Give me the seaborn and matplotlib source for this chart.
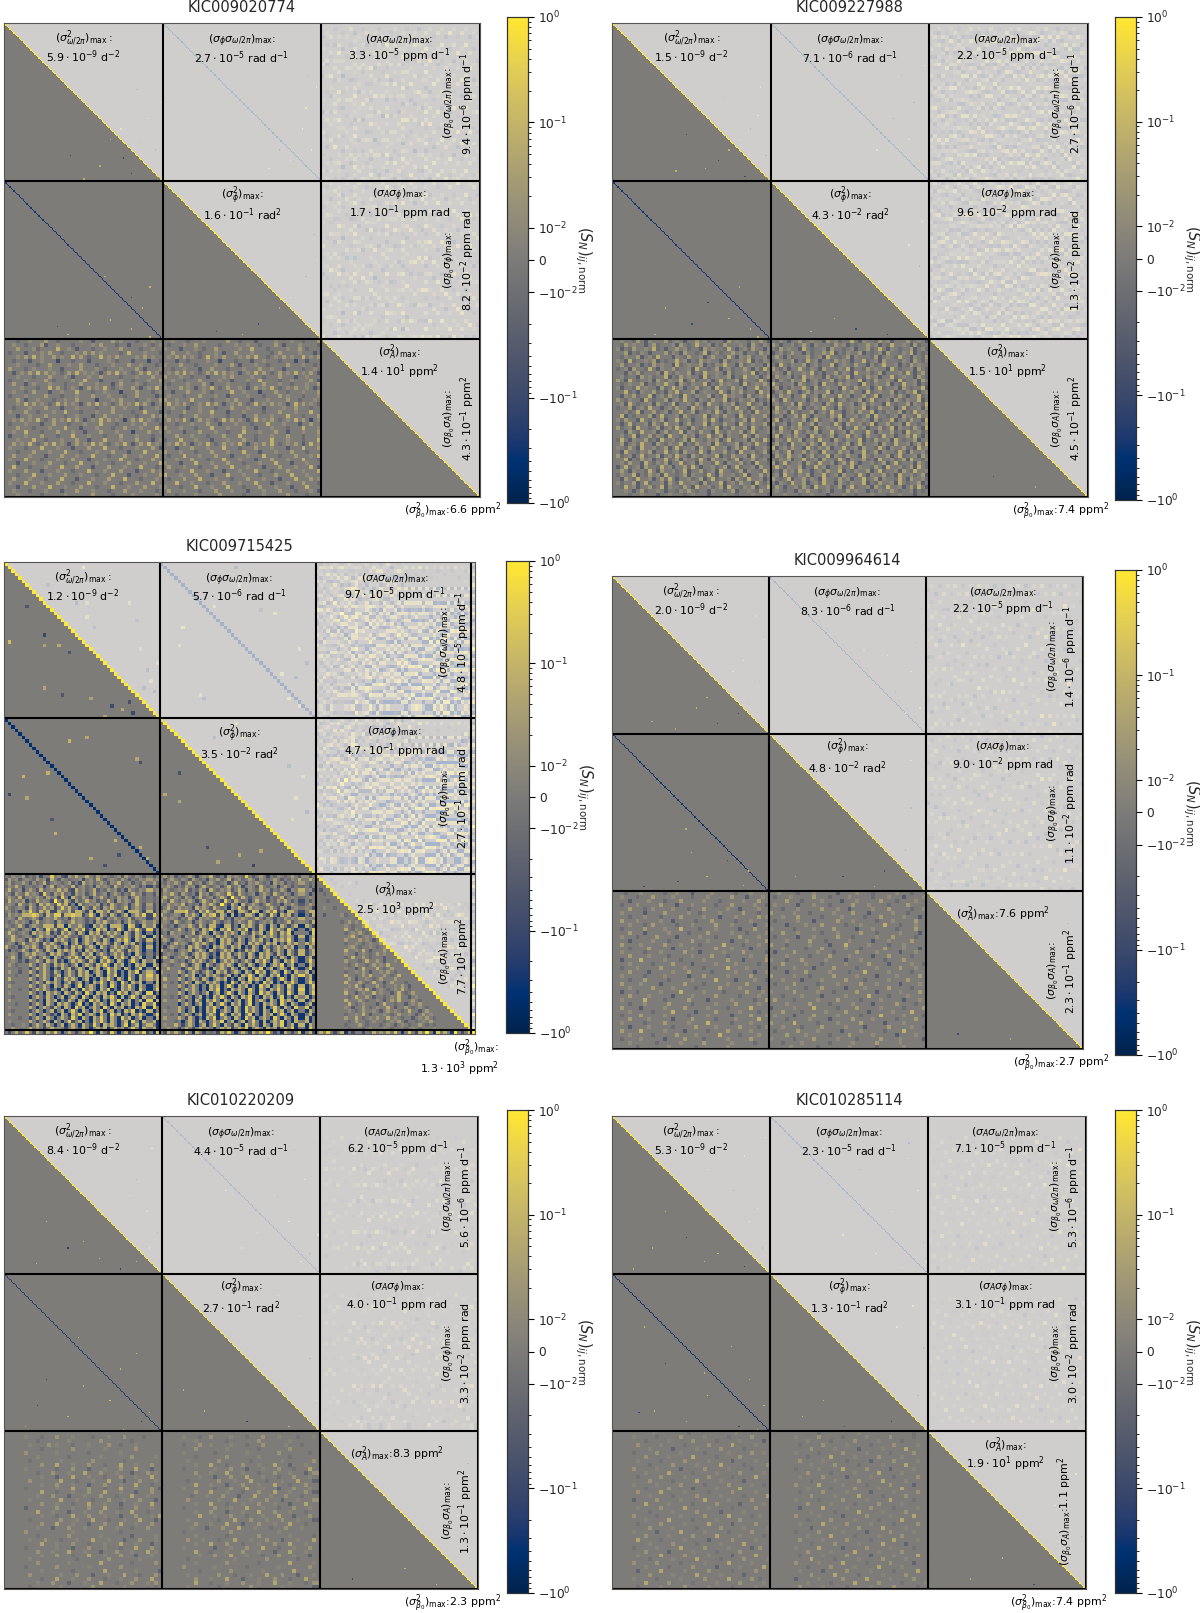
import numpy as np
import matplotlib
matplotlib.use("Agg")
import matplotlib.pyplot as plt
import seaborn as sns
from matplotlib.colors import SymLogNorm
from matplotlib.ticker import SymmetricalLogLocator

# ---------------------------
# Data
# ---------------------------
stars = ["KIC009020774", "KIC009227988", "KIC009715425",
         "KIC009964614", "KIC010220209", "KIC010285114"]

# max values, same order as the label list below
max_009020774 = ["5.9e-9", "2.7e-5", "3.3e-5", "9.4e-6", "1.6e-1", "1.7e-1", "8.2e-2", "1.4e1", "4.3e-1", "6.6"]
max_009227988 = ["1.5e-9", "7.1e-6", "2.2e-5", "2.7e-6", "4.3e-2", "9.6e-2", "1.3e-2", "1.5e1", "4.5e-1", "7.4"]
max_009715425 = ["1.2e-9", "5.7e-6", "9.7e-5", "4.8e-5", "3.5e-2", "4.7e-1", "2.7e-1", "2.5e3", "7.7e1", "1.3e3"]
max_009964614 = ["2.0e-9", "8.3e-6", "2.2e-5", "1.4e-6", "4.8e-2", "9.0e-2", "1.1e-2", "7.6", "2.3e-1", "2.7"]
max_010220209 = ["8.4e-9", "4.4e-5", "6.2e-5", "5.6e-6", "2.7e-1", "4.0e-1", "3.3e-2", "8.3", "1.3e-1", "2.3"]
max_010285114 = ["5.3e-9", "2.3e-5", "7.1e-5", "5.3e-6", "1.3e-1", "3.1e-1", "3.0e-2", "1.9e1", "1.1", "7.4"]

heads = [r"(\sigma^2_{\omega/2\pi})_\mathrm{max}\,", r"(\sigma_\phi\sigma_{\omega/2\pi})_\mathrm{max}",
         r"(\sigma_A\sigma_{\omega/2\pi})_\mathrm{max}", r"(\sigma_{\beta_0}\sigma_{\omega/2\pi})_\mathrm{max}",
         r"(\sigma^2_\phi)_\mathrm{max}", r"(\sigma_A\sigma_\phi)_\mathrm{max}",
         r"(\sigma_{\beta_0}\sigma_\phi)_\mathrm{max}", r"(\sigma^2_A)_\mathrm{max}",
         r"(\sigma_{\beta_0}\sigma_A)_\mathrm{max}", r"(\sigma^2_{\beta_0})_\mathrm{max}"]
units = ["d$^{-2}$", "rad d$^{-1}$", "ppm d$^{-1}$", "ppm d$^{-1}$", "rad$^2$",
         "ppm rad", "ppm rad", "ppm$^2$", "ppm$^2$", "ppm$^2$"]

# bottom row blocks, one character per cell (left block, right block)
# . zero, 1-5 rising positive, a-e rising negative
rows_009020774 = [
    "...a..1...2..a.....1..b....2.1...a...1.. ..1...a...1.....2..a...b....1...1..a...2",
    "..1..a...2b..1...a....1.2...a..b...1.a.1 .a...1..2.....a...1..1..a...2.b...1....a",
    "...2...1a....3..1.b...a..1...2....a..1.. 1...b...1.a..2.....1..3...a....1..2.a...",
    ".a...b...1.2..a...1.2.2.1....a.3...1...a ..2...1..a...1.b..2...1....a.2....1...b.",
    "...1.2.3.1..2.1..3.2.a..3.1.2....1.2.1.. .1.2.2.1.a.3.1.2...1.2.3..a.1.2.1..3.1.2",
    "..a...b..1...c...a...b....1.a...b...c..a ...b..a....1..c...a...b..1...a...c..b...",
    "...1....a..2....1..2...a...1...2..1...a. 1...2...a....1...2.b...1..a....2...1..a.",
    ".2...a.1...1..b....2...1.a...1...2.b...1 ..a..1...b..2...a...1...2..1..b....a..1.",
    "..b.1.2.3.2.1.a.2.3.1.1.b.2.3.1.a.2.3.1a .1.2.3.1.a.2.3.2.1.b.1.3.2.a.2.1.3.1.2.b",
    "...1...a...2...1.b...1..2....a...1...2.. 2...1..a...b...1.2....1..a...2...b..1...",
    ".a...1....2.a....1..3...b....1..a...1..2 ..1..a...2....1..b...1..3....a..1....2.b",
    "..2..b.1...1...a...2...1...b.2...1.a...1 .a....1...2.b...1....a...2...1..a...1..2",
    "....1...a..3.2.a.1.b.2.1.3.a.1..2.b.1.3. 1...2.1.b.1.3.a.2..1.b.2.1.3.a.1.2..1.b.",
    "..1..a.2...b..1...3...a..1...c...2...a.1 ..b...2...1.a....3..1...c...2..a...1...2",
    ".a...1....2...a...1...2...1...a..2....b. .1...a...2...1..b....1...a...2.1...a...1",
    "...2.b..1...a..1..2....c...1.2...a..1..2 2..1...3....a...1.2...b...1....2..a...1.",
    "...1.3.2.1.a.3.2.1.b.2.3.1.a.2.1.3.2.b.1 .3.1.2.a.1.3.2.b.1.2.a.3.1.2.1.b.3.2.1.a",
    "..a...1...2...b...1....a...2..1...b...1. ..1...b..1...a...2...1...b....1..2...a..",
    ".1...2..a...1..3...a...1...2....a..3...b .a...2...1..3...b...1....a...2...1...3..",
    "...b..1...2....a..1...b..2...1...a...2.1 1...a...2...1...a...b..2...1...3...a...2",
    "..1.2.1.3.a.2.1.3.2.b.1.3.2.1.c.2.3.1.a. .2.1.3.b.2.1.a.3.2.1.b.3.1.2.a.1.3.2.c.1",
    ".a...1...b..2...a...1...3...a...1..2...a ...a...1...2..b...1...a...3...1...b..2..",
    "...2...a...1...3...b...1...a..2...1...3. 2...1...a...3...1...2..b...1...a...3...1",
    "..1..3...a...2...1..b...2...1...c...2..1 .1...b...2...1..a...3...1...2..b...1...2",
    ".b...1...2...a...3...1...a...2...1...a.. ...2...1...a...2...3...a...1...2...a...1",
    "...1...3..a...1...2..b...3...1...2...b.1 a...3...1...b...1...2..a...3...1...a...3",
    "..2.1.3.a.2.3.1.b.2.1.3.2.a.1.3.b.2.3.1. .1.3.2.b.1.3.a.2.1.3.b.1.2.3.a.1.2.b.3.1",
    ".1...a...3...1...b...2...3...a...1...2.b ...b...2...1...3...a...2...1...b...3...2",
    "...a...2...1...3...a...1...2...b...3...1 2...1...a...2...1...3...b...1...2...a...",
    "..2...1...b...2...1...3...a...2...1...3. .a...3...1...2...b...1...3...a...2...1.3",
    ".1...3...a...1...2...b...1...3...a...2.. ...1...2...a...3...1...b...2...1...3...a",
    "...b...1...2...a...3...1...a...2...1...3 1...b...3...1...2...a...1...3...b...1...",
    "..3...a...1...3...2...b...2...1...3...a. .2...1...a...2...3...1...b...2...1...3.b",
    ".1...2...b...1...a...3...1...2...b...2.1 ...a...3...1...b...1...3...a...2...1...3",
    "...a...3...1...2...1...a...3...b...1...2 3...1...2...b...3...1...a...2...3...1...",
    "..2...1...a...3...b...1...2...3...a...1. .a...2...3...1...a...2...1...b...3...2.1",
    ".1...3...1...2...a...3...1...a...2...3.. ...3...1...a...2...1...3...b...1...2...a",
    "...b...2...3...1...2...a...3...1...2...1 1...a...3...1...3...a...2...1...b...3...",
    "..1...a...1...b...2...1...a...2...1...a. .2...1...a...2...1...b...1...2...a...1.b",
    "...1.....a.....1......2....a....1.....1. ...a....1.....2.....a....1.....2....a...",
]
rows_009227988 = [
    "..1..a2.b1...2a.1.b..2.1a...b2.1..a1.2.b .a1.b..2a.1..b2.1a..3.b1..a2.1b...2a.1.b",
    "..a2.1..b.2a...1b2.a.3..1b.a2...1.b2.a1. 2.b..1a.2.b1...a2.1b.a..2.1b.a3..1.b2a..",
    ".1b.a2..1.3a.b..2.1a..b2.1..a3.b.1a2..b1 .a2.1..b3.a..1b2..a.1b..2a.3.b1.a..2b.1a",
    "...2b.a1.b...2a1.b2..a.3b.1a..2.1b..a2.1 b.1a.2..b1a..2.3b.a1..2b.a.1b2..a1.3b.a.",
    "..a1..2b.1a3...b1.a2..1b.2..a3.b1.2a..1b .2.b1a...2a.1b3..a.2b1...a2b.1.a3..b1.a2",
    ".1.b3a..1.2b.a..3.1b.a2.1..b2a..1.3b.a1. a.1..2b.a3.1b..a2.1.b..3a.1b2...a1.b2.a1",
    "..2a..1b.a2.1..b3a.1..2b.a1.3..b2a.1..b2 .b3.a1..2b.1a..3b.1.a2..b1a.3..1b.a2.1..",
    ".a.1b2..a3.b1..2a..1b3..a.2b.1a..2.b1a3. 2.a1b..3.a1.b2..a1.3b..a2.1..b3.a..1b2.a",
    "...b1.2a...1b3.a1..2b.a3..1.b2a..1.3b.a1 .1.b2a..1.3a.b..2a1.b3..1a.2b...1a3.b.2a",
    "..1a..b2.1a..3b.a2.1..b3a.1..2b.a3..1b.2 a2..1b.a3.1..b2a.1.3b..a2.1b..3a.1..b2.a",
    ".2.b3.a..1b2.a1..3b.2a..1b.3a..2b1..a3.b .b1.a2..3b.1a..2b.a1..3b.a2..1.b3a..1b2.",
    "..a.1..2b.a1.3..b2.a1..3b.a2.1..b3a.1.2. 3.a..1b2.a.1b3..a2.1..b3.a1..2b.a3..1b.a",
    ".1b..a3.1..b2a.3.1b..2a.1b3..a2.1b..3a.1 .2b.a1..3.b2a.1..b3.a2..1b.3a..1b2.a..3b",
    "...3a.b1..2a.b1.3a..2b.1..a3.b1.2a..b3.1 b.1a3..b.2a1..3b.a1.2..b3a.1..2b.a1.3b.1",
    "..b1.2a..3b.1a2..b3.a1..2b.a3.1..b2a.1.3 .a2.1b..3a.1b2..a3.1b..2a.3b..1a2.b..3a.",
    ".2.a1..b3.a..2b.1a3..b1.a2..3b.a1..2b.a1 2.b3.a..1b.2a..3b.1a..2b.3a..1b2.a1..3b.",
    "..1b3.a..1b2.a.3b..1a2.b3..a1.2b..3a.1b. .1a..2b3.a1..b2.a3..1b.2a1..b3.a..2b1.a3",
    ".a..2b.1a3..b.1a2..b3.1a..2b.1a3..b2.a1. b3.a1..2b.a1.3..b2a.1..3b.a2..1b.3a..1b2",
    "...1a.3b..2a.1b..3a.2b..1a3.b1..2a.b3..1 .2.1b3.a..2b.1a3..b.1a2..3b.a1..2b.a3.1.",
    "..3b.a1..2b.3a..1b2.a..3b.1a2..b3.a1..2a a.1b..2a3.b1..a2.3b..1a.2b3..a.1b2..a3.1",
    ".1a2..b3.a1.2b..3a.1b..2a3.b..1a.2b3..a1 .3b.a1..2b.3a..1b2.a3..1.b2a..3b.1a2..b3",
    "..b.3a..1b2.a3..1b.2a..3b1.a2..b3.a1..2b 2a.1b..3a.2b1..a3.b2..1a.3b..2a.1b3..a.2",
    ".2a.1b3..a.2b.1a3..b2.a1..3b.a2..1b3.a.1 .b3.a1.2..b3a.1..2b.a3.1b..2a.3b1..a2.b3",
    "...b2.a3..1b.2a..3b1.a2..b3.a1..2b.3a..1 1a2..b3.a1.2b..3a.1b2..a3.b1..2a.b3..1a.",
    "..1a.3b..2a1.b3..a2.1b..3a.2b1..a3.b2..a .3b.1a2..b3.1a.2b..3a1.b2..a3.1b..2a3.b1",
    ".a3.b1..2a.b3..1a.2b3..a1.2b.3a..1b2.a3. b1.a3..2b.1a3..b2.a1..3b.a2..1b3.a..2b.1",
    "..2b.1a3..b2.a1..3b.a2..1b3.a..2b.1a3..b .2a.b3..1a2.b3..1a.2b.3a..1b2.a3..1b.2a3",
    ".1.a2.b3..1a.2b.3a..1b2.a3..1b.2a3.b..1a 3b.1a2..b3.a1.2b..3a.1b2..a3.b1..2a.b3.1",
    "..b3..a1.2b..3a.1b2..a3.b1..2a.b3..1a.2b .1a.3b..2a1.b3..a2.1b..3a.2b1..a3.b2..1a",
    ".2a.1b.3a..2b.1a3..b2.a1..3b.a2..1b3.a.. b2.a3..1b.2a..3b1.a2..b3.a1..2b.3a..1b2.",
    "...3b.a2.1b..3a.2b1..a3.b2..1a.3b..2a.1b .a1.2b..3a.1b2..a3.b1..2a.b3..1a.2b3..a1",
    "..1a2..b3.a1.2b..3a.1b2..a3.b1..2a.b3..a 2b.3a..1b2.a3..1b.2a3.b..1a.2b.3a..1b2.a",
    ".b.3a.1b2..a3.1b..2a3.b..1a.2b.3a..1b2.. .3.a1..2b.a3.1b..2a.3b1..a2.b3..1a.2b3.a",
    "..2.b1..a3.b2..1a.3b..2a.1b3..a.2b1..a3. a.b2.1a3..b.1a2..3b.a1..2b.3a..1b2.a3..1",
    ".a1..3b.a2.1b3..a.2b1..a3.b2..1a.3b..2a1 .1b3..a1.2b..3a.1b2..a3.b1..2a.b3..1a.2b",
    "..b2.a3..1b.2a3.b..1a.2b.3a..1b2.a3..1b. 2.a.3b..2a1.b3..a2.1b..3a.2b1..a3.b2..1a",
    ".1a..2b.3a..1b2.a3..1.b2a..3b.1a2..b3.a1 .b1.a3..2b.1a3..b2.a1..3b.a2..1b3.a..2b.",
    "..a3.1b..2a.3b1..a2.b3..1a.2b3..a1.2b..3 a2.b..1a2.b3..1a.2b.3a..1b2.a3..1b.2a3.b",
    "...1.b.2a..1.b..a1.2.a..b1..a.2b..1.a2.. .1.a..b1.2..a.1b..a2.1..b.a1..2.a..1b.a.",
    "....a..1...b..1...a.1...b...1..a...1...a ...1...a..1...b...1..a...1...a..1...b...",
]
rows_009715425 = [
    ".a1..2b.a1c..4.1bc2.3..3.a2.1.a.1b2.a1.b. .2a1b.a.2.c.1.3ab.c2.1.a4.b.2.c.a1.a.2.b1",
    "b2.1b.1.a2.1c3.b1.a..1c.1a3.b.1.a2.b.a1.2 1b.2.a1.b2.a.c1.2a.3b.1a.2.b1.a.2.b.a1.3.",
    ".2a..2.b1a.3b.1.a.2b.c3.1a.2.b1.3a.1b.a2. .a1.2.b.3a.1b.2.a.1c.3a.b1.2.a.c2.1b.a.2",
    "a1.3.b..a.1c.3b.1.a3b.1a.c2.1.b3.a1.2.b.c 1.2.b.a2.1c.3.a.1b.3a.2c.1.b3.a.1c.2.b.a",
    ".3a.1c.2.b3a.1.3.2bc3.1a.3b.a2.1b.c2.a1.3 b2.a.1.3b.a2.c3.a1.2b.3.c1.a3.1b.a2.c1.3",
    "1.b2.a3.1.c4.b2.3a.c2.1b.3a.1c.2.b.a3.1b. a1.3.b2.a.c3.1b.2.a4.b3.a.1c.2.b3.a1.c.2",
    ".2.a3b.1.2.b2.1c4.d3.a2.c1.3.b.a2.1c.3.a. .3.a1.b2.c.3a.1b.3.c5.a3.b.1.2c.a.3b.1.a",
    "a3.1.2c.a3.1.c5.b3.c2a.3.1b.a3.c2.1.b3.a. 2.b3.a1.2.c.3.a2.c4.b3.a.c.3.1b.a2.3.b.c",
    ".1.b3.a2.c3.3.b4.3c.d3a.1.2c.b3.a.1c.3.b2 .a2.1.3b.a.c2.3.b5.c3.d3a.2.b.3.a.c1.2.b",
    "2.a.1.c3.b.3.2c.4.3a.d3.b3.c2.3.a.3c.2.b1 b.3.a2.1.c3.2.b3.a.d2.4.c3.1.a.3.b2.c.1.",
    ".1a.c2.4.b3.3cc3..3b33.c3d33.3c.3.d333.c3 .2.b3334a.c3.4.b33c3.d33.c43d.3.4c.d33.c",
    "a2.1.33343.c3.44c33433c.4.d3.c3.c.3d.3.4c 3.a.1.c3.3.d3.34c3.d3d.c33.d3.c4.d3.3c.d",
    ".1.b3.a.2.c.1.3.a.c2.1.b.a3.c1.2.a.3b.1.c a2.1.b.a3.c2.1.a.3b.c1.2.a.3.b1.c.a2.1.3",
    ".a.2.1.c.3a.1.c2.a.3.1.b.c2.3.a.1c.3.b.2. .1.b3.a.1c.2.a.3.b.1c.2.a3.b.1.2c.a.3b.1",
    "1.a.3.c.2.a333c33d3..3.cd3.3.d333.d43cd3. 2.a.c.1.3.b3.c33cd33c.d3.3.c3.d3.d3.c.3d",
    "a.2.b.1.d3.c4.3c.4d.3.4c.d4.3d.c4.d3.4.c4 .1.a.3.c.2.c3.4.d3.4c.3.4d.c3.d4.3.c4.d.",
    ".3.a.1.c3.2.3c.c3.3.c3.d3.3c.3.3.d3.c3.d. a.c2.1.a.3c.3.d3.c3.3.d3.c3.3d.4.c3.4d..",
    "..3.a.1.c.3.1.c2.3.a.c.3.2.3c.3.a.3.c3.3d 3.a.1.c2.a.3.1.c3.3.c.2.a.3c.3.3.c2.3.d3",
    "a.3.1.c3.3.c.d3.3.c.3d.3.3.c3.d.3.4.d3.c3 .2.c.1.a.3.3c.3.d3.3.c3.d.3.3c.d3.3.4.d.",
    ".1.c.3a.2.c3.3.c.3d.3c.3.d3.3.c3.d3.3c.d. a.c.3.1.c.3.3.c.d3.3c.3.d3.3.c3.3d.c3.3.",
    "3.a.c.2.3.c.3.3.d.c3.3c.3.d3.c.3.3.c.3.d3 .c.2.a.c3.3.c.d3.3.c3.3d.c3.d3.c.3.3.3d.",
    ".c.a.3.c.3.c3.d3.3.3c.d3.3.c.d3.3.c3.3.d. 3.a.c.1.3c.3.d3.c.3.3d.c3.3.d.3c.3.d3.c3",
    "..1.c.2.3.1.c3.3.c.3.c3.3d.3.c.3.3c.d3.c. c.1.a.2.c.3.3.c.d3.3c.3.c3.d3.3.c3.d3.c3",
    "a.3.c..3.c.3.d3.c.3.4.d3.3c.4.d3.4.d3.3d. .3.c.1.3.c3.3.d.c3.3.c3.d3.c3.3d.c3.d3.d",
    "..1.b.c..3.c3.3c.d.3.3.c3.d3.4.d3.d.4.d3. c..2.a.c.3.3.c.3d.3.3.c.3.d3.4.d3.d3.4.d",
    ".2.a...3.c.3.c3.3.c.3d.3.c3.4.d3.3d.d3.3d .1.a..3.c.3.d3.c.3.3.d3.c3.d.3d.3.4d.3d.",
    "....a..c.3.3.d.c3.3c.3.d3.3d.4.3.d3.d.4d. ..3...c.3.3.c.d3.3.c3.d3.d3.4d.3d.3.d4.d",
    ".2..b..3.c.3.c3.d.3.c3.3d.3.d4.3d.d3.4d.3 2....3.c.3.c.3.d3.3c.3.d3.d4.3d.3.d4.d3.",
    "...a...c.3.3.c.3d.3.c3.3.d3.d3.4d.d3.d3.4 ..a..c.3.3d.c3.3.c.3d.d3.4.d3.d3.4d.d3.4",
    ".3.....3.c.3.d3.c3.3.d.3d.d3.4.d3.d4.d3.3 .3...3.c.3.c3.d.3.3d.d3.d4.3.d3.d.4.d3.d",
    "..a....c.3.c3.3.d.3c.3d.d3.4.d3.d4.d3.3d. ...a.c.3.d3.c3.3.d.d4.d3.3d.d4.3d.d3.4.d",
    ".2.....3.c.3.d3.c3.d.4d.3.d3.d4.d3.4.d3.d .2...3.c.3.d.d3.3d.4.d3.3d.d4.3d.3.d4.d3",
    "....a..c.3.3.c.d3.d3.d4.3.d3.4d.d3.3.d4.d .....c.3.3.d.d3.4d.d3.3.d4.d3.d3.4.d3.d4",
    ".1.....3.c.d3.3.d3.c3.d4.d3.3d.d4.3d.3.d4 .1...3.d.3.c.3d.3d.4.d3.d3.d4.3.d3.d4.d3",
    "..a....d.3.c3.d.3d.3.d4.d3.d3.4.d3d.4.d3. ...a.c.3.d.3d.d3.4.d3.d3.4d.d3.3d.4d.d3.",
    ".2.....3.c.d3.3d.c3.d3.d4.3d.d3.4d.3d.3d4 .2...3.c.d3.d3.4.d3.d.3d.4d.3.d3.d4.3.d3",
    "...a...c.3.d3.d3.3.d.4d.d3.3.d4.d3.3d.d4. .....d.3.d.3d.3d.4.d3.3d.4d.d3.3.d4.d3.d",
    ".1.....3.d.3.c3.d3.d4.3d.3.d4.d3.3d.d3.4d ..a..3.c.3d.d3.4.d3.d3.d4.3.d3d.4.d3.d4.",
    "..a....c.3.d.3d.3d.4.d3.d3.4d.3d.d3.4d.d3 .1...3.d.3d.d3.4d.3.d3.d4.3.d3.d4.3d.3d.",
    ".2.....3.d.3.c.d3.d3.4d.3.d3.d4.3d.d3.4.d ...a.c.3.d.3d.3.d4.d3.3d.4d.d3.3d.4.d3.d",
    "....a..c.3.d3.d.3.c4.d3.d3.4.d3.d4.3d.3d. .2...3.c3.d.d3.4d.3.d3.d4.3d.3.d4.d3.d3d",
    ".1.....3.c.3.d3.d.4c.3d.d3.4.d3.d.3d4.d3. ....a.d.3.d3.d.3.4d.3d.3d.4.d3d.3.4d.d3.",
    "..a..1.c.3.c3.d.3d.3.d3.c4.d3.3.d.4d.3d.3 .1..3.c.3.d.3d.4.d3.c3.d4.3.d3.d3.4d.3d3",
    "..2....3.2.c.3.1.c.3.c3.d.3.3d.3.2c.4.d3. ..2..c.3.c.3.2.d.3.3c.3.4d.3.d3.2d.3.4d.",
]
rows_009964614 = [
    "...a...1.....a..1...b....1.....a...1.... ..1....a...1.....b....1...a.....1...a...",
    "..1...a...2....1....a...1.....2...b...1. .a...1.....2...a....1.....a...1...b....1",
    "....b....1...a...2.....1...a.....1...2.. ....2...a....1....b...1.....2...a....1..",
    "..a...1.....2...b...1.....a...2.....1..a .1.....b...1...a.....2...1....a....2....",
    "....2...a.1....1...a...2.....1..b....1.. ...a...1.....2...1..b.....1...2.....a..1",
    "..1.....b....2.....1..a....1.....2...a.. 2.....1...a.....1....2...b.....1...a....",
    "....a...1...a....2.....1...b...1.....2.1 ...1...2.....a....1.....a...2.....1...b.",
    "..2...1.....1..b.....a...2.....a...1.... .a.....1...b.....2...1.....a...1.....2..",
    "....1...a.2.....a...1.....2...1.....b..1 ....b....1...2.....a...1.....3...a...1..",
    "..a.....2....1...3....a...1.....b...2... 1.....a....1....2.....b...1.....a....2..",
    "....2...b.....1....a....2.....1...a....1 ...2...1.....a...1.....2...a.....1....b.",
    "..1...a....2....b.....1...a.....2....1.. .a.....b...1.....2...a.....1...2.....a..",
    "....b.....1...a.....2...1.....b...1....2 ....1.....2...a.....1.....b...1.....2...",
    "..2....1.....2...1....a.....3....a...1.. 2...a.....1....b...3.....1....a...1.....",
    "....a....2.....b....1.....2...1....b.... ...1.....a...2.....1...a.....2....1...b.",
    "..1.....a...1.....2...b.....1....2.....a .b....2.....1...a.....2....1.....b...1..",
    "....2....1....a.....1....2...a.....1...1 ....1.....a....2....1.....b...2.....a...",
    "..b....3.....1...a.....1.....2...b.....2 1...a...2.....1....b...1.....a....2.....",
    "....1.....a....2....b.....1....1.....a.. ...2.....1...a.....1.....2....b.....1..a",
    "..a...1.....2.....1....a.....3....1..... .a....1....b....2.....a....1.....2...1..",
    "....2....b.....1...2.....a.....1....b..1 ....b....2.....1....a...3.....1.....a...",
    "..1.....a....1.....b...2.....1.....2.... 2.....1...a.....2.....1....b....1.....2.",
    "....a...2.....a.....1.....3....b....1..a ...1....b....1.....2....a.....1....2....",
    "..2....1....b.....2....a.....1....2..... .a....2.....a....1.....2...1.....b....1.",
    "....1.....2....1.....a.....2....1....b.. ....1....a...2.....b....1.....2.....a...",
    "..b...a.....1....3.....1....a.....2...1. 1.....2.....1...a.....2....b.....1....2.",
    "....2....1.....b....1.....2.....a....1.. ...a....1....b.....1.....3....a....1....",
    "..1.....3....a.....2....b.....1.....a..2 .2....a.....1....2.....a....1.....b...1.",
    "....a...1.....2.....a.....1....2.....1.. ....1.....2....a.....1....b.....2....a..",
    "..2....b.....1....2.....1....a.....3.... b.....1....3.....a....2.....1.....a....2",
    "....1.....a....3.....b....2.....1....a.. ...2....a.....1....2.....b.....1....3...",
    "..a....2.....1.....a....1.....b....2...1 .1....b....2.....1.....a....3.....1....a",
    "....2....1.....b....2.....a....1.....3.. ....a.....1....b.....2....1.....a....2..",
    "..1.....a....2.....1....3.....a....1.... 2.....3.....a....1.....2.....b....1.....",
    "....b....1.....a.....2....1.....2....a.1 ...1....a....2.....1....b.....2.....1..a",
    "..2....3.....1....b.....a....2.....1.... .a.....2....1.....b....1.....a....3.....",
    "....1.....a.....2....1.....3....a....1.. ....2....1.....a....2.....1.....b....1..",
    "..a....1.....b....2....a.....1.....2.... 1.....a....2.....1....a.....2....1.....b",
    "....1......a.....1.....2......1.....a... ...a....1......a.....1.....2.....1......",
    "......a.......1......a.......1.......... .....1......a.......1......a......1.....",
]
rows_010220209 = [
    "........................................ ........................................",
    ".....1...a...2...1....a...1...2....a.... .....1...a..2....1...a...2...1....a...1.",
    "........a.......1.......2.......a....... ........1.......a.......2.......1.......",
    "......1....2.1...a...1....2..a...1...... .....a...2..1....1...a...2.....1...a....",
    ".........a.......2.......1.......2...... ........2.......1.......a.......2.......",
    ".....2.......1.......a.......1.......... .....1.......a.......1.......2.......a..",
    "........1.......a.......1.......2.....1. ........a.......2.......1.......a.......",
    "......a.......1.......2.......a......... ......1.......2.......a.......1.......2.",
    ".........2...3...1...2...a...3...1...2.. ........1...3...a...2...1...3...b...1...",
    ".....1.......a...2...b...1...2...3...b.. .....a.......1...2...b...1...2...a...3..",
    "........a...2...1...3...2...1...b...2.1. ........2...1...3...1...a...2...1...b.2",
    ".........1...b...3...1...a...2...1...3.. .........1...b...2...3...1...a...2...1.",
    "......2.......3...a...1...3...b...2...1. ......a.......2...1...3...a...1...3...b",
    ".........1...2...1...b...2...1...3...a.. ........3...1...b...2...1...3...a...2..",
    ".....a.......1...3...2...a...3...1...2.b .....1.......a...2...3...1...b...2...1.",
    ".........3...a...1...2...3...1...b...2.. ........2...3...1...a...2...3...1...2.b",
    "........1...2...b...1...2...a...3...1... .......a...1...2...b...3...1...2...a...",
    "......1.......3...1...a...2...1...2...b. ......2.......1...3...1...2...b...1...2",
    ".........2...1...a...3...1...b...1...3.. ........1...3...a...1...2...1...b...3..",
    ".....b.......2...1...2...3...a...2...1.. .....a.......2...1...3...1...a...2...1.",
    "........3...1...b...1...2...1...3...a... ........1...2...b...1...3...2...1...a..",
    ".........1...a...3...2...1...b...2...1.3 .........3...1...2...a...1...3...b...2.",
    "......a.......2...1...3...a...1...3...b. ......1.......a...3...2...1...2...1...b",
    ".........2...3...1...b...2...3...1...2.. ........2...1...3...b...2...1...3...a..",
    "........1...b...2...1...3...1...a...2... .......1...b...2...3...1...a...2...1...",
    ".....2...........1...........a.......... .....a...........2...........1..........",
    "........a.......2.......1.......b.....1. ........1.......a.......2.......1.....a.",
    "......1...2...a...1...3...1...b...2...1. ......2...1...a...3...1...2...b...1...3.",
    ".........3...1...2...a...1...3...1...b.. ........1...3...2...a...1...2...3...1..",
    ".....a.......1...b...2...1...a...3...2.. .....1.......b...1...2...3...a...1...2.",
    "........2...1...3...1...b...2...1...3.1. ........3...a...1...2...1...b...3...1..",
    ".........1...2...a...3...1...2...b...1.. .........1...2...3...1...a...2...1...b.",
    "......1...........a.......2.......1..... ......a...........1.......2.......a.....",
    "........2.......1.......3.......a.....2. ........1.......2.......a.......3.....1.",
    ".....a.......2.......1.......2.......... .....2.......1.......a.......1.......2..",
    ".........1.......a.......3.......1.....b .........a.......2.......1.......3......",
    "......2.......1...2...b...1...3...a...2. ......1.......2...a...1...3...2...b...1.",
    ".........a...3...1...2...a...1...2...3.. ........2...1...3...b...1...2...a...3..",
    "........1...2...b...1...3...a...2...1.2. ........3...a...1...2...1...3...1...a.2",
    "......a.......1.......2.......1.......a. ......1.......a.......2.......1.......b",
]
rows_010285114 = [
    "..........1........a...........1........ ............a.........1.............a...",
    ".....1.....a.....2.....1.....a.....2.... ......1.....2.....a.....1.....2.....a...",
    "........a.....1.....2.....a.....1.....b. .........1.....a.....2.....1.....a......",
    "......2.....1.....a.....2.....3.....1... .......a.....2.....1.....a.....2.....1..",
    ".........1.....b.....1.....2.....a...... ..........2.....1.....b.....1.....3.....",
    ".....a.....2.....1.....a.....1.....2..1. ......1.....a.....2.....1.....a.....2...",
    "........2.....1.....3.....a.....2....... .........a.....3.....1.....2.....1......",
    "......1.....a.....2.....1.....b.....1... .......2.....1.....a.....b.....2.....1..",
    ".........a.....2.....1.....3.....a.....2 ..........1.....2.....a.....1.....3.....",
    ".....2.....1.....b.....2.....1.....a.... ......a.....1.....3.....2.....b.....1...",
    "........1.....3.....a.....1.....2.....1. .........2.....a.....1.....3.....1......",
    "......a.....2.....1.....2.....a.....3... .......1.....2.....b.....1.....a.....2..",
    ".........2.....a.....3.....1.....b...... ..........a.....1.....2.....3.....1.....",
    ".....1.....1.....2.....a.....2.....1..a. ......2.....3.....1.....a.....2.....b...",
    "........a.....2.....b.....1.....3....... .........1.....a.....2.....1.....3......",
    "......2.....3.....1.....a.....2.....1... .......a.....2.....1.....b.....1.....2..",
    ".........1.....a.....2.....1.....a.....3 ..........2.....1.....3.....a.....2.....",
    ".....b.....2.....1.....3.....1.....2.... ......1.....a.....2.....1.....3.....a...",
    "........3.....1.....a.....2.....b.....1. .........2.....1.....a.....2.....1......",
    "......1.....2.....3.....1.....a.....2... .......b.....3.....1.....2.....a.....1..",
    ".........a.....1.....2.....b.....1...... ..........1.....a.....3.....1.....2.....",
    ".....2.....a.....1.....2.....3.....a.1.. ......2.....1.....b.....2.....1.....3...",
    "........1.....3.....a.....1.....2....... .........a.....2.....1.....a.....3......",
    "......a.....2.....1.....3.....b.....2... .......1.....3.....2.....1.....a.....2..",
    ".........2.....1.....a.....2.....1.....1 ..........b.....1.....2.....3.....1.....",
    ".....1.....b.....3.....1.....a.....2.... ......a.....2.....1.....b.....2.....1...",
    "........2.....1.....2.....3.....1.....a. .........1.....3.....a.....1.....2......",
    "......3.....a.....1.....b.....2.....1... .......2.....1.....2.....a.....3.....1..",
    ".........1.....2.....a.....1.....3...... ..........a.....2.....1.....3.....b.....",
    ".....a.....1.....3.....2.....1.....b.2.. ......1.....3.....b.....2.....1.....a...",
    "........2.....b.....1.....a.....2....... .........2.....1.....3.....1.....2......",
    "......1.....3.....2.....1.....b.....3... .......a.....1.....2.....b.....1.....3..",
    ".........a.....1.....3.....a.....2.....1 ..........3.....a.....1.....2.....1.....",
    ".....2.....2.....a.....1.....3.....1.... ......2.....1.....3.....a.....2.....b...",
    "........1.....a.....2.....b.....1.....3. .........a.....2.....1.....3.....1......",
    "......b.....3.....1.....2.....a.....2... .......1.....b.....2.....1.....a.....3..",
    ".........2.....1.....3.....1.....b...... ..........2.....3.....a.....1.....2.....",
    ".....1.....a.....1.....2.....3.....2.a.. ......b.....1.....2.....3.....1.....2...",
    "........3.....2.....a.....1.....2.....1. .........1.....a.....3.....2.....a.....1",
    "......a.....1.....2.....1.....a.....1... .......2.....1.....a.....1.....2.....a..",
]
# lower triangle of the third diagonal block
tri_009715425 = [
    "", "b", "..", "...", ".b..", "..a..", "......", "...a...", "........", "..1..a...",
    "..........", "..b....1a..", "...........a", ".......a.2.1.", "........1.a..2", "........3.a1.a.",
    "........a.1.2.a.", ".........13.a.1.2", "........2...2.1.b.", "........a..1.a.1..2",
    ".........12.a..1.a.1", "........3..1.3.b...2", "........1..b.1.a.2.1.", "........a.3..2.a...b.",
    "........2...a.3..2.b..1", ".........a.2..a.2.1.3.", "........1..b.3...3.a.2.", "........a..1.2.b..1.2.a.",
    "........3..a.2.3...2.a.3", ".........2.b..1.a.2...2.", "........3...2.a.3..b.2...a",
    ".........1.3.b...2.a..1.2.b.", "........1...2.3.b.1.a.1.3.a", "........3..b.1..3.1..b.3.a.2.",
    ".........a.3..2.b..a.1.3..b.1", "........3...2.a..1.b.2.3...2.a.", ".........3.a.1...b.3..a..b.1.2.",
    "........1.b..2.a.1..3.b..2.a.1.a", ".........1.a.2..1.b.2.1.a.3..b.2.", "........a..1.3.b...1.a.2..1.b.2.1",
    "........2..3.a.1.2..3.1.a..b.1.2.a", ".........a.2..a.1..a.1.2.b..a.1.2.", "........a...2.a...a.1.b.1.a..2.a.a.",
    ".........a...a.1...1.a...a.1.a...1.",
]
# extra last row of the matrix
edge_009715425 = ".c.3a.4.c3.c3.4.d.3.c.3.5.d3.c4.d.3c.3.4c.d4.c3.3.c4.d3.c.a.c3.4.d.3.c3.3.5.c.d3.c.4d.3c.3.4.c.3d.c..c.a3.2.3.4.d.4.c3.5.d4.3.d5.c.4d"

# (row, col, value) of the single bright cells outside the bottom row
specks_009020774 = [(100, 50, -0.1), (108, 72, 0.1), (114, 96, -0.1), (88, 80, 0.08), (102, 90, -0.1), (118, 60, 0.1),
                    (225, 80, 0.15), (216, 104, 0.12), (232, 96, 0.15), (208, 96, -0.1), (228, 64, 0.1),
                    (192, 76, 0.08), (236, 48, 0.1), (234, 160, -0.1), (228, 192, -0.1), (216, 208, 0.1),
                    (238, 110, 0.1), (230, 40, -0.08), (200, 110, 0.1), (236, 180, 0.1)]
specks_009227988 = [(104, 80, -0.1), (112, 48, 0.1), (96, 88, 0.1), (116, 100, -0.1), (84, 56, -0.08), (110, 70, 0.1),
                    (224, 88, 0.15), (212, 72, -0.1), (232, 104, 0.12), (200, 96, 0.1), (236, 32, 0.1),
                    (232, 184, -0.12), (224, 168, 0.1), (236, 208, -0.1), (352, 320, 0.08), (344, 288, -0.08),
                    (228, 60, -0.1), (238, 110, 0.1), (216, 40, 0.1), (234, 150, 0.1)]
specks_009715425 = [(12, 6, -0.04), (20, 11, -0.1), (22, 1, 0.15), (23, 11, 0.04), (23, 15, 0.06), (25, 18, -0.05),
                    (35, 11, 0.05), (37, 16, -0.04), (38, 24, 0.04), (40, 30, -0.08), (39, 35, -0.06), (42, 36, -0.1),
                    (43, 28, 0.05), (41, 33, 0.06), (50, 18, 0.1), (49, 23, 0.05), (55, 37, 0.05), (56, 38, -0.06),
                    (60, 5, 0.1), (59, 12, 0.08), (65, 1, -0.1), (66, 6, 0.05), (72, 13, -0.04), (76, 14, 0.08),
                    (78, 31, 0.1), (80, 38, 0.1), (82, 32, -0.06), (83, 24, 0.06), (85, 28, -0.06), (83, 40, 0.08),
                    (59, 49, -0.06), (65, 45, 0.06), (67, 49, 0.05), (80, 57, -0.06), (82, 66, 0.06), (85, 70, -0.1),
                    (84, 60, 0.05), (81, 72, 0.05)]
specks_009964614 = [(100, 64, 0.1), (112, 80, -0.1), (116, 48, 0.08), (104, 96, -0.1), (92, 72, 0.08), (110, 30, 0.08),
                    (228, 72, 0.12), (216, 88, -0.1), (224, 104, 0.12), (192, 56, 0.08), (236, 24, -0.1),
                    (228, 176, -0.1), (236, 200, 0.1), (224, 208, -0.08), (352, 304, 0.08), (348, 264, -0.08),
                    (235, 100, 0.1), (210, 60, 0.08), (232, 50, -0.08), (228, 140, 0.08)]
specks_010220209 = [(80, 32, 0.15), (100, 48, -0.15), (108, 72, 0.15), (116, 88, -0.15), (112, 24, 0.1), (95, 60, 0.12),
                    (168, 56, 0.15), (200, 32, -0.15), (216, 80, 0.2), (228, 48, 0.15), (232, 104, -0.15),
                    (192, 88, 0.15), (236, 16, 0.1), (224, 152, 0.15), (232, 184, -0.15), (208, 136, 0.1),
                    (236, 216, 0.1), (344, 304, 0.1), (352, 264, -0.1), (356, 328, 0.1), (180, 100, 0.12),
                    (205, 60, 0.12), (220, 25, -0.12), (238, 90, 0.15), (225, 110, 0.12), (110, 100, 0.1)]
specks_010285114 = [(72, 40, 0.15), (92, 56, -0.15), (104, 80, 0.15), (114, 100, -0.15), (116, 16, 0.1), (100, 30, 0.12),
                    (160, 24, 0.15), (188, 40, -0.15), (212, 72, 0.2), (224, 32, 0.15), (236, 96, -0.15),
                    (200, 104, 0.15), (232, 56, 0.1), (228, 144, 0.15), (236, 176, -0.15), (216, 160, 0.1),
                    (232, 212, -0.1), (336, 296, 0.1), (352, 272, 0.1), (356, 320, -0.1), (175, 90, 0.12),
                    (195, 70, 0.12), (225, 20, -0.12), (238, 110, 0.15), (220, 115, 0.12), (110, 70, 0.1)]

# blue line in the phi/omega block
cross_diag = [-0.3, -0.3, -0.45, -0.3, -0.18, -0.3]
# how strong the bottom row looks in each panel
bottom_scale = [1.0, 0.85, 1.0, 1.0, 0.6, 0.6]

# level of each character
levels = {".": 0.0, "1": 0.012, "2": 0.03, "3": 0.08, "4": 0.3, "5": 1.0,
          "a": -0.012, "b": -0.03, "c": -0.08, "d": -0.3, "e": -1.0}

# ---------------------------
# Layout (pixels of the 1200x1613 picture)
# ---------------------------
W, H = 1200, 1613
ax_boxes = [(4, 23, 480, 497), (612, 23, 1088, 497),
            (4, 562, 475, 1034), (612, 576, 1083, 1049),
            (4, 1116, 478, 1589), (612, 1116, 1086, 1589)]
cbar_boxes = [(507, 17, 528, 503), (1115, 17, 1136, 500),
              (506, 561, 529, 1033), (1115, 570, 1136, 1055),
              (507, 1110, 528, 1593), (1115, 1110, 1136, 1593)]
label_pos = [(.167, .95), (.5, .945), (.83, .945), (.957, .83), (.5, .618),
             (.83, .618), (.957, .5), (.83, .285), (.957, .165)]
bottom_x = [1.044, 1.044, 1.05, 1.056, 1.048, 1.045]


def to_rect(box):
    x0, y0, x1, y1 = box
    return [x0 / W, 1 - y1 / H, (x1 - x0) / W, (y1 - y0) / H]


def read_rows(rows, width):
    # rows typed a little short run on with their own last cells
    left, right = [], []
    for row in rows:
        a, b = row.split()
        left.append([levels[c] for c in (a + a[::-1])[:width]])
        right.append([levels[c] for c in (b + b[::-1])[:width]])
    return np.array(left), np.array(right)


def build_matrix(rows, n, per_cell, diag, specks, scale=1.0, tri=None, edge=None):
    size = 3 * n + (1 if edge else 0)
    m = np.zeros((size, size))
    left, right = read_rows(rows, n // per_cell)
    block = np.ones((per_cell, per_cell))
    m[2 * n:3 * n, 0:n] = scale * np.kron(left, block)[:n, :n]
    m[2 * n:3 * n, n:2 * n] = scale * np.kron(right, block)[:n, :n]
    for k in range(n):
        m[n + k, k] = diag
    for r, c, v in specks:
        m[r, c] = v
    if tri:
        for r, row in enumerate(tri):
            for c, ch in enumerate(row[:r]):
                m[2 * n + r, 2 * n + c] = levels[ch]
    if edge:
        m[-1, :] = [levels[c] for c in edge.ljust(size, ".")[:size]]
    m = np.tril(m, -1)
    m = m + m.T
    np.fill_diagonal(m, 1.0)
    return m


def value_text(value, unit):
    if "e" in value:
        mant, exp = value.split("e")
        return rf"${mant}\cdot 10^{{{int(exp)}}}$ {unit}"
    return rf"${value}$ {unit}"


def label_text(head, value, unit):
    sep = "\n" if "e" in value else ""
    return f"${head}$:{sep}{value_text(value, unit)}"


matrices = [
    build_matrix(rows_009020774, 120, 3, cross_diag[0], specks_009020774, bottom_scale[0]),
    build_matrix(rows_009227988, 120, 3, cross_diag[1], specks_009227988, bottom_scale[1]),
    build_matrix(rows_009715425, 44, 1, cross_diag[2], specks_009715425, bottom_scale[2],
                 tri=tri_009715425, edge=edge_009715425),
    build_matrix(rows_009964614, 120, 3, cross_diag[3], specks_009964614, bottom_scale[3]),
    build_matrix(rows_010220209, 120, 3, cross_diag[4], specks_010220209, bottom_scale[4]),
    build_matrix(rows_010285114, 120, 3, cross_diag[5], specks_010285114, bottom_scale[5]),
]
max_values = [max_009020774, max_009227988, max_009715425,
              max_009964614, max_010220209, max_010285114]
block_sizes = [120, 120, 44, 120, 120, 120]

# ---------------------------
# Plot
# ---------------------------
sns.set_theme(style="white", rc={"xtick.bottom": False, "ytick.left": False})
plt.rcParams["font.family"] = ["DejaVu Sans"]
plt.rcParams["mathtext.fontset"] = "dejavusans"

fig = plt.figure(figsize=(W / 100, H / 100), dpi=100)
norm = SymLogNorm(linthresh=0.01, linscale=0.276, vmin=-1, vmax=1, base=10)

for i, star in enumerate(stars):
    ax = fig.add_axes(to_rect(ax_boxes[i]))
    cax = fig.add_axes(to_rect(cbar_boxes[i]))
    m = matrices[i]
    n = block_sizes[i]

    lower = np.triu(np.ones_like(m, dtype=bool), 1)
    upper = np.tril(np.ones_like(m, dtype=bool), 0)
    sns.heatmap(m, mask=upper, cmap="cividis", norm=norm, alpha=0.37, ax=ax,
                cbar=False, xticklabels=False, yticklabels=False, rasterized=True)
    sns.heatmap(m, mask=lower, cmap="cividis", norm=norm, ax=ax, cbar_ax=cax,
                xticklabels=False, yticklabels=False, rasterized=True)

    for k in (n, 2 * n, 3 * n):
        ax.axhline(k, color="black", lw=1.5)
        ax.axvline(k, color="black", lw=1.5)
    for side in ax.spines.values():
        side.set_visible(True)
        side.set_color("#555555")
        side.set_linewidth(0.8)

    ax.set_title(star, fontsize=10.5, pad=8)

    vals = max_values[i]
    for j, (x, y) in enumerate(label_pos):
        ax.text(x, y, label_text(heads[j], vals[j], units[j]), transform=ax.transAxes,
                ha="center", va="center", fontsize=7.9, linespacing=1.0,
                rotation=90 if x > 0.9 else 0, color="black")
    two_lines = "e" in vals[9]
    ax.text(bottom_x[i], -0.051 if two_lines else -0.031, label_text(heads[9], vals[9], units[9]),
            transform=ax.transAxes, ha="right", va="center", fontsize=7.9,
            linespacing=1.0, multialignment="right", color="black")

    cax.tick_params(axis="y", which="major", left=False, right=True, length=4, width=0.8,
                    labelsize=8.8, color="black", pad=3)
    cax.yaxis.set_minor_locator(SymmetricalLogLocator(linthresh=0.01, base=10, subs=range(2, 10)))
    cax.tick_params(axis="y", which="minor", left=False, right=True, length=2, width=0.6, color="black")
    cax.set_ylabel(r"$(S_N)_{ij,\mathrm{norm}}$", rotation=270, fontsize=10.5, labelpad=12)
    for side in cax.spines.values():
        side.set_visible(True)
        side.set_color("#333333")
        side.set_linewidth(0.8)

fig.savefig("out.png", dpi=100)
